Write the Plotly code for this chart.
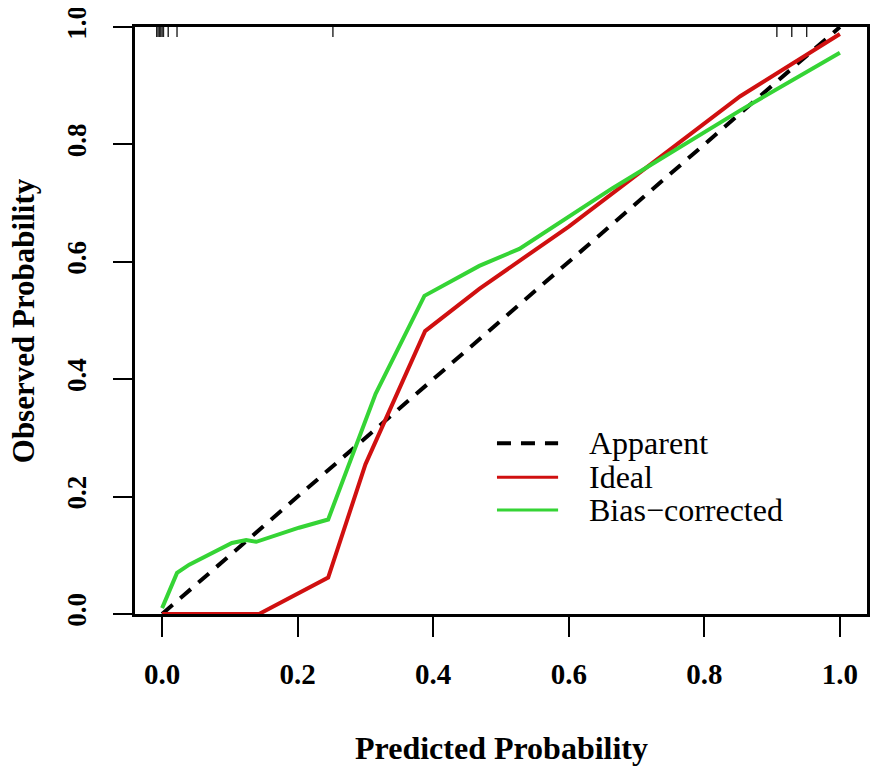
import plotly.graph_objects as go

# calibration curves
apparent_x = [0.0, 1.0]
apparent_y = [0.0, 1.0]

ideal_x = [0.0, 0.124, 0.143, 0.245, 0.300, 0.388, 0.468, 0.600, 0.753, 0.853, 1.0]
ideal_y = [0.0, 0.0, 0.0, 0.062, 0.255, 0.482, 0.554, 0.660, 0.793, 0.882, 0.988]

bias_x = [0.0, 0.022, 0.040, 0.069, 0.103, 0.124, 0.139, 0.202, 0.245, 0.315,
          0.387, 0.468, 0.527, 0.664, 0.853, 1.0]
bias_y = [0.010, 0.070, 0.084, 0.101, 0.121, 0.126, 0.123, 0.147, 0.161, 0.375,
          0.542, 0.593, 0.622, 0.725, 0.858, 0.956]

# rug of predicted probabilities along the top
rug_x = [-0.008, -0.006, -0.004, -0.002, 0.0, 0.002, 0.009, 0.022, 0.252, 0.907, 0.929, 0.951]

tick_vals = [0.0, 0.2, 0.4, 0.6, 0.8, 1.0]
tick_text = ["0.0", "0.2", "0.4", "0.6", "0.8", "1.0"]

legend_names = ["Apparent", "Ideal", "Bias\u2212corrected"]

RED = "#d01010"
GREEN = "#35d435"
SERIF = "Liberation Serif, Times New Roman, serif"

fig = go.Figure()

rx, ry = [], []
for v in rug_x:
    rx += [v, v, None]
    ry += [1.0, 0.983, None]
fig.add_trace(go.Scatter(x=rx, y=ry, mode="lines",
                         line=dict(color="#222222", width=1.4),
                         showlegend=False, hoverinfo="skip"))

fig.add_trace(go.Scatter(x=apparent_x, y=apparent_y, mode="lines",
                         line=dict(color="black", width=4, dash="14px,10px"),
                         name=legend_names[0], showlegend=False))
fig.add_trace(go.Scatter(x=ideal_x, y=ideal_y, mode="lines",
                         line=dict(color=RED, width=4),
                         name=legend_names[1], showlegend=False))
fig.add_trace(go.Scatter(x=bias_x, y=bias_y, mode="lines",
                         line=dict(color=GREEN, width=4),
                         name=legend_names[2], showlegend=False))

axis_common = dict(
    showgrid=False, zeroline=False, automargin=False,
    showline=True, mirror=True, linecolor="black", linewidth=2.5,
    ticks="outside", tickwidth=2, tickcolor="black",
    tickvals=tick_vals, ticktext=tick_text, ticklabeloverflow="allow",
)

fig.update_xaxes(range=[-0.04, 1.04], ticklen=20, ticklabelstandoff=12,
                 tickfont=dict(family=SERIF, size=29, color="black", weight="bold"),
                 **axis_common)
fig.update_yaxes(range=[0.0, 1.0], ticklen=19, tickangle=-90, ticklabelstandoff=16,
                 tickfont=dict(family=SERIF, size=27, color="black", weight="bold"),
                 **axis_common)

# hand-built legend so the line samples can be longer than plotly's default
legend_rows = [0.291, 0.233, 0.177]
legend_styles = [dict(color="black", width=4, dash="14px,10px"),
                 dict(color=RED, width=3),
                 dict(color=GREEN, width=3)]
annotations = []
shapes = []
for name, yy, st in zip(legend_names, legend_rows, legend_styles):
    shapes.append(dict(type="line", xref="paper", yref="paper",
                       x0=0.4945, x1=0.578, y0=yy, y1=yy, line=st))
    annotations.append(dict(xref="paper", yref="paper", x=0.617, y=yy,
                            text=name, showarrow=False, xanchor="left", yanchor="middle",
                            font=dict(family=SERIF, size=32, color="black")))

annotations.append(dict(xref="paper", yref="paper", x=0.5, y=-0.228,
                        text="Predicted Probability", showarrow=False,
                        xanchor="center", yanchor="middle",
                        font=dict(family=SERIF, size=32, color="black", weight="bold")))
annotations.append(dict(xref="paper", yref="paper", x=-0.152, y=0.5,
                        text="Observed Probability", showarrow=False, textangle=-90,
                        xanchor="center", yanchor="middle",
                        font=dict(family=SERIF, size=31, color="black", weight="bold")))

# the page body adds an 8px offset, so the margins are shifted to compensate
fig.update_layout(
    width=882, height=767,
    margin=dict(l=127, r=23, t=19, b=161),
    paper_bgcolor="white", plot_bgcolor="white",
    showlegend=False,
    shapes=shapes,
    annotations=annotations,
)

fig.write_html("out.html")
